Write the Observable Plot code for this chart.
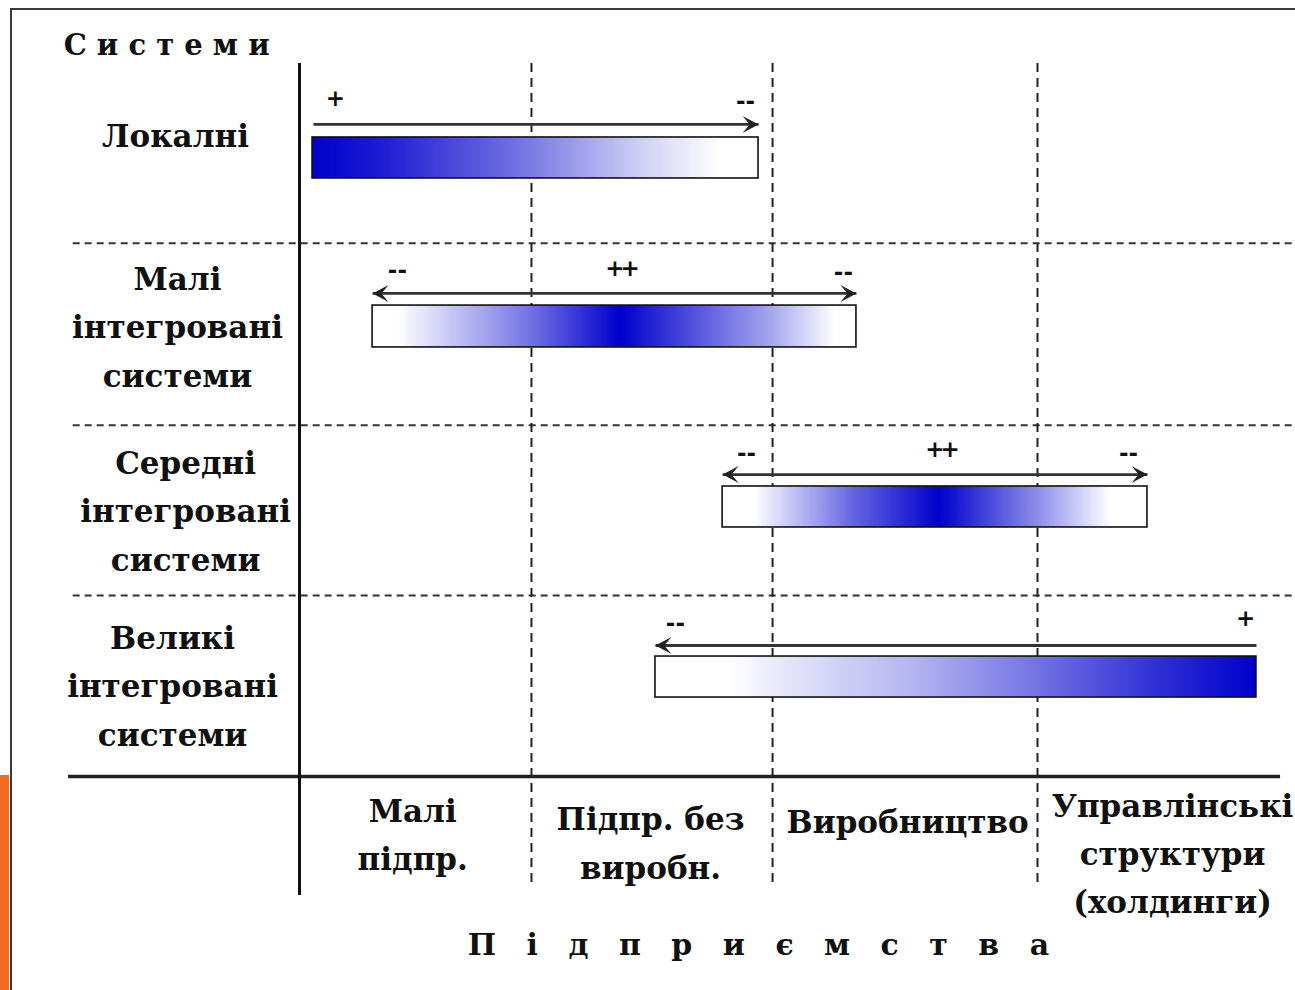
<!DOCTYPE html>
<html><head><meta charset="utf-8">
<script src="https://cdn.jsdelivr.net/npm/d3@7"></script>
<script src="https://cdn.jsdelivr.net/npm/@observablehq/plot@0.6"></script>
<style>
html,body{margin:0;padding:0;background:#fff;}
#wrap{position:relative;width:1295px;height:990px;overflow:hidden;background:#fff;}
#chart{position:absolute;left:0;top:0;}
#frame{position:absolute;left:10px;top:8px;width:1300px;height:1000px;border-left:2px solid #3a3a3a;border-top:2px solid #3a3a3a;pointer-events:none;}
#accent{position:absolute;left:0;top:775px;width:9px;height:215px;background:#f26a21;}
</style></head>
<body><div id="wrap"><div id="chart"></div><div id="frame"></div><div id="accent"></div></div>
<script>
// ---- data (x in "enterprise" units, y in "system row" units) ----
const systemLabels = ["Локалні", "Малі\nінтегровані\nсистеми", "Середні\nінтегровані\nсистеми", "Великі\nінтегровані\nсистеми"];
const systemLabelX = [-0.504, -0.496, -0.463, -0.516];
const systemLabelY = [0.383, 1.455, 2.487, 3.469];

const enterpriseLabels = ["Малі\nпідпр.", "Підпр. без\nвиробн.", "Виробництво", "Управлінські\nструктури\n(холдинги)"];
const enterpriseLabelX = [0.46, 1.427, 2.472, 3.549];
const enterpriseLabelY = [4.303, 4.350, 4.230, 4.410];

const enterpriseBounds = [0.943, 1.923, 3.0];
const rowBounds = [1.009, 2.03, 2.985];

const barStart = [0.053, 0.297, 1.720, 1.447];
const barEnd = [1.866, 2.264, 3.447, 3.890];
const barTop = [0.415, 1.358, 2.373, 3.327];
const barBottom = [0.645, 1.593, 2.603, 3.557];
// intensity profile of each bar: [x, intensity 0..1]
const barProfile = [
  [[0.053, 1], [0.35, 0.88], [0.94, 0.52], [1.4, 0.18], [1.72, 0]],
  [[0.40, 0], [0.94, 0.55], [1.305, 1], [1.63, 0.65], [1.92, 0.35], [2.18, 0]],
  [[1.85, 0], [1.93, 0.12], [2.25, 0.6], [2.60, 1], [3.0, 0.45], [3.30, 0]],
  [[1.75, 0], [1.92, 0.08], [2.5, 0.3], [3.0, 0.55], [3.5, 0.82], [3.89, 1]]
];

const arrowFrom = [0.057, 0.297, 1.720, 3.890];
const arrowTo = [1.866, 2.264, 3.447, 1.447];
const arrowY = [0.342, 1.290, 2.306, 3.265];
const arrowBoth = [false, true, true, false];

const signText = ["+", "--", "--", "++", "--", "--", "++", "--", "--", "+"];
const signX = [0.146, 1.813, 0.398, 1.305, 2.211, 1.817, 2.606, 3.370, 1.528, 3.846];
const signY = [0.196, 0.213, 1.161, 1.150, 1.173, 2.188, 2.166, 2.188, 3.142, 3.114];

const yTitle = "С и с т е м и";
const xTitle = "П і д п р и є м с т в а";

// ---- derived tables ----
const rows = systemLabels.map((label, i) => ({label, x: systemLabelX[i], y: systemLabelY[i]}));
const cols = enterpriseLabels.map((label, i) => ({label, x: enterpriseLabelX[i], y: enterpriseLabelY[i]}));
const bars = barStart.map((s, i) => ({x1: s, x2: barEnd[i], y1: barTop[i], y2: barBottom[i], fill: `url(#grad${i})`}));
const arrows = arrowFrom.map((f, i) => ({x1: f, x2: arrowTo[i], y: arrowY[i]}));
const heads = [];
arrows.forEach((a, i) => {
  const dir = Math.sign(a.x2 - a.x1);
  heads.push({x: a.x2, y: a.y, angle: dir > 0 ? 0 : 180});
  if (arrowBoth[i]) heads.push({x: a.x1, y: a.y, angle: dir > 0 ? 180 : 0});
});
const signs = signText.map((t, i) => ({t, x: signX[i], y: signY[i]}));

const barb = {
  draw(ctx, size) {
    const r = Math.sqrt(size / Math.PI);
    const L = 1.6 * r, W = 0.85 * r;
    ctx.moveTo(0, 0);
    ctx.lineTo(-L, -W);
    ctx.lineTo(-0.55 * L, 0);
    ctx.lineTo(-L, W);
    ctx.closePath();
  }
};

const serif = "'DejaVu Serif', 'Liberation Serif', serif";

const chart = Plot.plot({
  width: 1295,
  height: 990,
  margin: 0,
  x: {domain: [0, 3], range: [299, 1037], axis: null},
  y: {domain: [0, 4], range: [63, 776], axis: null},
  color: {type: "identity"},
  style: {background: "transparent", fontFamily: serif, color: "#111"},
  marks: [
    Plot.ruleY(rowBounds, {y: d => d, x1: -0.92, x2: 4.06, stroke: "#333", strokeWidth: 2, strokeDasharray: "7,5"}),
    Plot.ruleX(enterpriseBounds, {x: d => d, y1: 0, y2: 4.6, stroke: "#222", strokeWidth: 2, strokeDasharray: "9,6"}),
    Plot.rect(bars, {x1: "x1", x2: "x2", y1: "y1", y2: "y2", fill: "fill", stroke: "#111", strokeWidth: 1.6}),
    Plot.link(arrows, {x1: "x1", x2: "x2", y1: "y", y2: "y", stroke: "#333", strokeWidth: 2.8}),
    Plot.dot(heads, {x: "x", y: "y", rotate: "angle", symbol: barb, r: 10, fill: "#222", stroke: "none"}),
    Plot.ruleY([4], {x1: -0.939, x2: 3.988, stroke: "#222", strokeWidth: 3.5}),
    Plot.ruleX([0], {y1: 0, y2: 4.668, stroke: "#111", strokeWidth: 3}),
    Plot.text(rows, {x: "x", y: "y", text: "label", fontSize: 31, fontWeight: "bold", lineHeight: 1.56, fill: "#111"}),
    Plot.text(cols, {x: "x", y: "y", text: "label", fontSize: 31, fontWeight: "bold", lineHeight: 1.56, fill: "#111"}),
    Plot.text(signs, {x: "x", y: "y", text: "t", fontSize: 23, fontWeight: "bold", fontFamily: "'DejaVu Sans', sans-serif", fill: "#111"}),
    Plot.text([yTitle], {x: -0.54, y: -0.101, text: d => d, fontSize: 29, fontWeight: "bold", fill: "#111"}),
    Plot.text([xTitle], {x: 1.886, y: 4.948, text: d => d, fontSize: 30, fontWeight: "bold", fill: "#111"})
  ]
});

// gradient definitions built from the bar profiles
const svg = d3.select(chart);
const defs = svg.insert("defs", ":first-child");
const blue = d3.interpolateRgb("#ffffff", "#0000cd");
barProfile.forEach((prof, i) => {
  const g = defs.append("linearGradient").attr("id", `grad${i}`).attr("x1", 0).attr("x2", 1).attr("y1", 0).attr("y2", 0);
  const span = barEnd[i] - barStart[i];
  prof.forEach(([x, t]) => {
    g.append("stop").attr("offset", Math.max(0, Math.min(1, (x - barStart[i]) / span))).attr("stop-color", blue(t));
  });
});
// letter spacing for the spaced title and the overlapping "++" marks
svg.selectAll("text").filter(function() { return this.textContent === xTitle; }).style("letter-spacing", "10px");
svg.selectAll("text").filter(function() { return this.textContent === "++"; }).style("letter-spacing", "-4px");

document.getElementById("chart").appendChild(chart);
</script>
</body></html>
